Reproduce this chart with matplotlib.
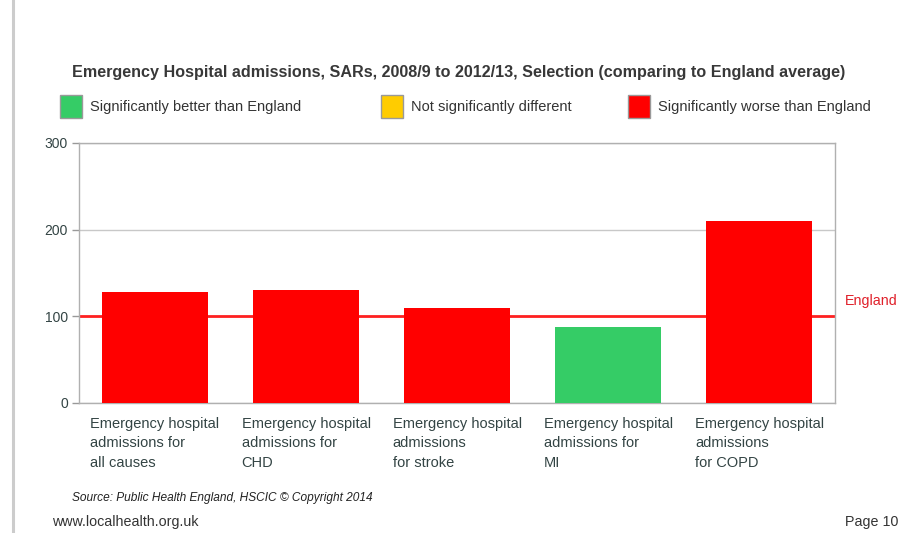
import matplotlib
matplotlib.use("Agg")
import matplotlib.pyplot as plt
from matplotlib.patches import Rectangle

plt.rcParams['font.family'] = ['Liberation Sans', 'DejaVu Sans']

categories = [
    "Emergency hospital\nadmissions for\nall causes",
    "Emergency hospital\nadmissions for\nCHD",
    "Emergency hospital\nadmissions\nfor stroke",
    "Emergency hospital\nadmissions for\nMI",
    "Emergency hospital\nadmissions\nfor COPD",
]
values = [128, 130, 110, 88, 210]
significance = ["worse", "worse", "worse", "better", "worse"]
england_value = 100
yticks = [0, 100, 200, 300]

colors = {"better": "#35CC66", "similar": "#FFCC00", "worse": "#FF0000"}
legend_labels = [
    ("better", "Significantly better than England"),
    ("similar", "Not significantly different"),
    ("worse", "Significantly worse than England"),
]

W, H = 899, 533
fig = plt.figure(figsize=(W / 100, H / 100), dpi=100)
fig.patch.set_facecolor("white")

def fx(px):
    return px / W

def fy(py):
    return 1 - py / H

# page border on the left
fig.add_artist(plt.Line2D([fx(13), fx(13)], [0, 1], color="#CCCCCC", lw=2.2,
                          transform=fig.transFigure))

ax = fig.add_axes([fx(79), fy(403), fx(835) - fx(79), fy(143) - fy(403)])
x = list(range(len(values)))
ax.bar(x, values, width=0.7, color=[colors[s] for s in significance],
       zorder=3, align="center")
ax.set_xlim(-0.5, len(values) - 0.5)
ax.set_ylim(0, 300)
ax.set_yticks(yticks)
ax.set_yticklabels([str(t) for t in yticks], fontsize=10, color="#334444")
ax.tick_params(axis="y", length=5, color="#999999", width=1, pad=3)
ax.set_xticks([])
ax.grid(axis="y", color="#C8C8C8", lw=1, zorder=0)
for s in ax.spines.values():
    s.set_color("#B0B0B0")
    s.set_linewidth(1)

ax.axhline(england_value, color="#FF2020", lw=2, zorder=2)
ax.text(1.013, england_value + 18, "England", transform=ax.get_yaxis_transform(),
        color="#E0202A", fontsize=10.3, va="center", ha="left")

# category labels, left aligned beneath each slot
for i, lab in enumerate(categories):
    ax.text(i - 0.5 + 0.075, -16, lab, transform=ax.transData, ha="left",
            va="top", fontsize=10.5, color="#334444", linespacing=1.5)

fig.text(fx(459), fy(72),
         "Emergency Hospital admissions, SARs, 2008/9 to 2012/13, Selection (comparing to England average)",
         ha="center", va="center", fontsize=11.6, fontweight="bold", color="#383838")

legend_x = [60, 381, 628]
for (key, text), lx in zip(legend_labels, legend_x):
    fig.add_artist(Rectangle((fx(lx), fy(118)), fx(22), fy(95) - fy(118),
                             facecolor=colors[key], edgecolor="#999999", lw=1,
                             transform=fig.transFigure))
    fig.text(fx(lx + 30), fy(107), text, ha="left", va="center", fontsize=10.5,
             color="#333333")

fig.text(fx(72), fy(498), "Source: Public Health England, HSCIC \u00a9 Copyright 2014",
         ha="left", va="center", fontsize=8.6, style="italic", color="#222222")
fig.text(fx(52), fy(522), "www.localhealth.org.uk", ha="left", va="center",
         fontsize=10.3, color="#333333")
fig.text(fx(845), fy(522), "Page 10", ha="left", va="center", fontsize=10.3,
         color="#333333")

fig.savefig("out.png", dpi=100, facecolor="white")
